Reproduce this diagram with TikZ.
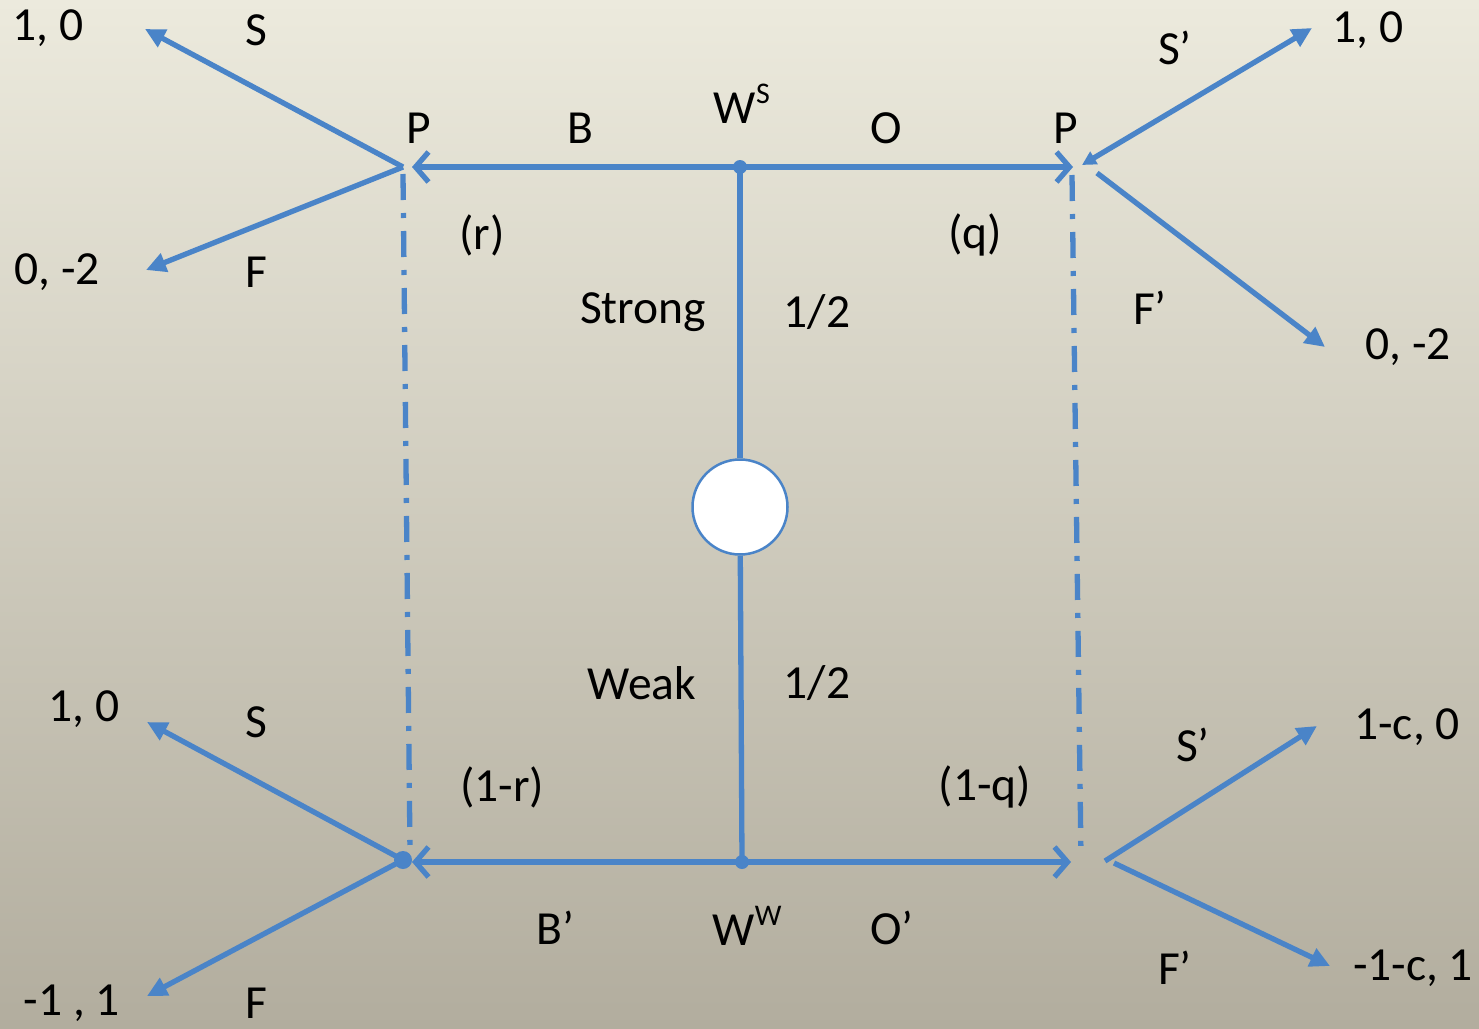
\documentclass[tikz,border=0pt]{standalone}
\usepackage{fontspec}
\setmainfont{Carlito}
\usetikzlibrary{arrows.meta}
\definecolor{ln}{RGB}{74,132,200}
\definecolor{bgtop}{RGB}{236,234,221}
\definecolor{bgbot}{RGB}{178,173,158}
\newcommand{\supx}[1]{\raisebox{0.42em}{\fontsize{30}{31}\selectfont #1}}
\begin{document}
\begin{tikzpicture}[x=1pt,y=-1pt,
  lbl/.style={font=\fontsize{47.5}{50}\selectfont, inner sep=0pt, text=black},
  edge/.style={draw=ln, line width=5.3pt},
  barb/.style={edge, -{Straight Barb[length=13pt,width=30pt]}},
  tri/.style={edge, -{Triangle[length=20pt,width=19pt]}},
  tritwo/.style={edge, {Triangle[length=14pt,width=14pt]}-{Triangle[length=20pt,width=19pt]}},
  dd/.style={draw=ln, line width=5.3pt, dash pattern=on 26pt off 13pt on 5pt off 13pt},
  dotn/.style={circle, fill=ln, inner sep=0pt, minimum size=14pt}
]
\fill[top color=bgtop, bottom color=bgbot] (0,0) rectangle (1479,1028);
\useasboundingbox (0,0) rectangle (1479,1028);

% junction coordinates
\coordinate (pl) at (403,167);
\coordinate (plb) at (403,174);
\coordinate (plarr) at (412,167);
\coordinate (prarr) at (1073,167);
\coordinate (prv) at (1072,175);
\coordinate (prS) at (1082,165);
\coordinate (prF) at (1097,173);
\node[dotn, minimum size=14pt] (ws) at (740,167) {};
\node[dotn, minimum size=14pt] (ww) at (742,862) {};
\node[dotn, minimum size=18pt] (bl) at (403,860) {};
\coordinate (blarr) at (412,862);
\coordinate (blv) at (410,852);
\coordinate (brarr) at (1071,862);
\coordinate (brv) at (1081,857);
\coordinate (brS) at (1105,861);
\coordinate (brF) at (1114,863);
% ends of branches
\coordinate (e1) at (145,29);
\coordinate (e2) at (146,270);
\coordinate (e3) at (1312,28);
\coordinate (e4) at (1325,347);
\coordinate (e5) at (147,722);
\coordinate (e6) at (147,996);
\coordinate (e7) at (1317,726);
\coordinate (e8) at (1330,966);

% chance node
\node[circle, draw=ln, line width=2.5pt, fill=white, minimum size=95pt, inner sep=0pt] (chance) at (740,507) {};

% connectors
\draw[edge] (ws.center) -- (chance);
\draw[edge] (chance) -- (ww.center);
\draw[barb] (ws.center) -- (plarr);
\draw[barb] (ws.center) -- (prarr);
\draw[barb] (ww.center) -- (blarr);
\draw[barb] (ww.center) -- (brarr);
\draw[dd] (plb) -- (blv);
\draw[dd] (prv) -- (brv);
\draw[tri] (pl) -- (e1);
\draw[tri] (pl) -- (e2);
\draw[tritwo] (prS) -- (e3);
\draw[tri] (prF) -- (e4);
\draw[tri] (bl.center) -- (e5);
\draw[tri] (bl.center) -- (e6);
\draw[tri] (brS) -- (e7);
\draw[tri] (brF) -- (e8);

% labels
\node[lbl] (t1) at (48,28) {1, 0};
\node[lbl] (t2) at (256,30) {S};
\node[lbl] (t3) at (419,128) {P};
\node[lbl] (t4) at (580,128) {B};
\node[lbl] (t5) at (742,104) {W\supx{S}};
\node[lbl] (t6) at (886,128) {O};
\node[lbl] (t7) at (1066,128) {P};
\node[lbl] (t8) at (1175,48) {S’};
\node[lbl] (t9) at (1368,30) {1, 0};
\node[lbl] (t10) at (482,235) {(r)};
\node[lbl] (t11) at (975,235) {(q)};
\node[lbl] (t12) at (57,272) {0, -2};
\node[lbl] (t13) at (256,272) {F};
\node[lbl] (t14) at (643,312) {Strong};
\node[lbl] (t15) at (817,312) {1/2};
\node[lbl] (t16) at (1150,308) {F’};
\node[lbl] (t17) at (1408,347) {0, -2};
\node[lbl] (t18) at (642,683) {Weak};
\node[lbl] (t19) at (817,683) {1/2};
\node[lbl] (t20) at (84,709) {1, 0};
\node[lbl] (t21) at (256,722) {S};
\node[lbl] (t22) at (1193,745) {S’};
\node[lbl] (t23) at (1407,727) {1-c, 0};
\node[lbl] (t24) at (502,787) {(1-r)};
\node[lbl] (t25) at (985,787) {(1-q)};
\node[lbl] (t26) at (555,928) {B’};
\node[lbl] (t27) at (747,926) {W\supx{W}};
\node[lbl] (t28) at (892,928) {O’};
\node[lbl] (t29) at (1175,968) {F’};
\node[lbl] (t30) at (1413,968) {-1-c, 1};
\node[lbl] (t31) at (72,1003) {-1 , 1};
\node[lbl] (t32) at (256,1003) {F};
\end{tikzpicture}
\end{document}
